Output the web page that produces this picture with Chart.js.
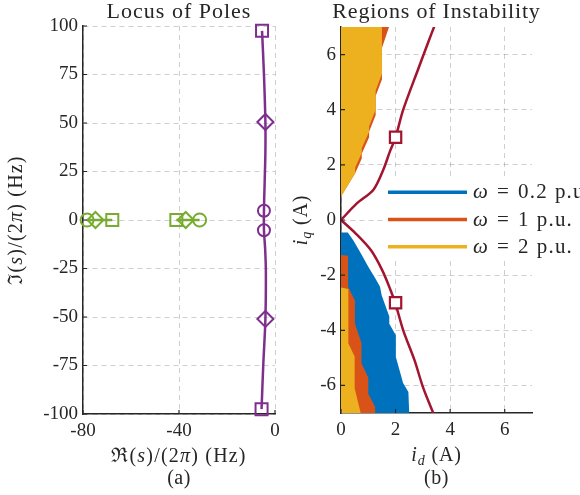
<!DOCTYPE html>
<html><head><meta charset="utf-8">
<script src="https://cdn.jsdelivr.net/npm/chart.js@4/dist/chart.umd.min.js"></script>
<style>
html,body{margin:0;padding:0;background:#fff;width:580px;height:495px;overflow:hidden}
#wrap{position:relative;width:580px;height:495px}
canvas{position:absolute;top:0}
#c1{left:0}#c2{left:290px}
</style></head><body>
<div id="wrap"><canvas id="c1" width="290" height="495"></canvas><canvas id="c2" width="290" height="495"></canvas></div>
<script>
// ---------- data: (a) locus of poles ----------
const poleTicksX = [-80, -40, 0];
const poleTickLabelsX = ['-80', '-40', '0'];
const poleTicksY = [-100, -75, -50, -25, 0, 25, 50, 75, 100];
const poleTickLabelsY = ['-100', '-75', '-50', '-25', '0', '25', '50', '75', '100'];
const purpleLocus = [[-5.4,97.5],[-4.6,75],[-4.0,50.5],[-4.0,35],[-4.3,20],[-4.6,4.8],[-4.6,-5.3],[-4.1,-15],[-3.8,-27],[-4.0,-51],[-4.9,-75],[-5.6,-97.5]];
const purpleSquares = [[-5.4,97.5],[-5.6,-97.5]];
const purpleDiamonds = [[-4.0,50.5],[-4.0,-51]];
const purpleCircles = [[-4.6,4.8],[-4.6,-5.3]];
const greenLeft = [[-78.3,0],[-74.8,0],[-67.8,0]];
const greenLeftMarkers = ['circle','rectRot','rect'];
const greenRight = [[-41.1,0],[-37.2,0],[-31.4,0]];
const greenRightMarkers = ['rect','rectRot','circle'];

// ---------- data: (b) regions of instability ----------
const idTicks = [0, 2, 4, 6];
const idTickLabels = ['0', '2', '4', '6'];
const iqTicks = [-6, -4, -2, 0, 2, 4, 6];
const iqTickLabels = ['-6', '-4', '-2', '0', '2', '4', '6'];
const legendLabels = ['ω = 0.2 p.u.', 'ω = 1 p.u.', 'ω = 2 p.u.'];
const blueLower = [[0,-0.45],[0.25,-0.45],[0.46,-0.75],[0.72,-1.2],[1.0,-1.7],[1.25,-2.1],[1.43,-2.42],[1.49,-2.73],[1.77,-3.5],[1.77,-3.76],[2.01,-4.18],[2.01,-4.97],[2.25,-5.82],[2.27,-5.9],[2.47,-6.24],[2.5,-7],[0,-7]];
const orangeLower = [[0,-1.27],[0.26,-1.3],[0.26,-2.42],[0.51,-2.92],[0.51,-3.76],[0.75,-4.46],[0.75,-5.2],[1.0,-5.72],[1.0,-6.3],[1.25,-6.78],[1.25,-7],[0,-7]];
const yellowLower = [[0,-2.45],[0.27,-2.5],[0.27,-4.48],[0.5,-4.95],[0.5,-6.1],[0.72,-7],[0,-7]];
const orangeUpper = [[0,7],[1.76,7],[1.5,6.24],[1.5,5.1],[1.27,4.5],[1.27,3.8],[1.03,3.2],[1.03,3.0],[0.76,2.4],[0.76,2.23],[0.52,1.7],[0,0.85]];
const yellowUpper = [[0,7],[1.5,7],[1.5,5.3],[1.27,4.7],[1.27,4.0],[1.03,3.4],[1.03,3.2],[0.76,2.6],[0.76,2.43],[0.52,1.9],[0.52,1.7],[0,0.85]];
const redUpper = [[0,0],[0.58,0.6],[1.19,1.1],[1.55,1.82],[1.79,2.48],[2.0,3.0],[2.28,4.0],[2.82,5.45],[3.19,6.43],[3.43,7.05]];
const redLower = [[0,0],[0.55,-0.5],[1.1,-1.1],[1.5,-1.8],[1.8,-2.5],[2.0,-3.05],[2.28,-4.0],[2.7,-5.1],[3.0,-6.05],[3.4,-7.05]];
const redSquares = [[2,3],[2,-3]];

// ---------- styles ----------
const SERIF = "'Liberation Serif', 'DejaVu Serif', serif";
const AX = '#262626';
const GRID = 'rgba(38,38,38,0.22)';
const PURPLE = '#7E2F8E', GREEN = '#77AC30';
const BLUE = '#0072BD', ORANGE = '#D95319', YELLOW = '#EDB120', RED = '#A2142F';

const xy = arr => arr.map(p => ({x: p[0], y: p[1]}));

function drawParts(ctx, parts, x, y, align, rot, spacing) {
  ctx.save();
  ctx.translate(x, y);
  if (rot) ctx.rotate(rot);
  ctx.textBaseline = 'alphabetic';
  ctx.textAlign = 'left';
  ctx.fillStyle = AX;
  const setF = p => { ctx.font = (p.it ? 'italic ' : '') + p.size + 'px ' + SERIF; ctx.letterSpacing = (spacing || 0) + 'px'; };
  let w = 0;
  const ms = parts.map(p => { setF(p); const m = ctx.measureText(p.t).width + (p.gap || 0); w += m; return m; });
  let cx = align === 'center' ? -w / 2 : (align === 'right' ? -w : 0);
  parts.forEach((p, i) => { setF(p); ctx.fillText(p.t, cx, p.dy || 0); cx += ms[i]; });
  ctx.restore();
}

function inwardTicks(chart) {
  const ctx = chart.ctx, a = chart.chartArea, sx = chart.scales.x, sy = chart.scales.y;
  ctx.save();
  ctx.strokeStyle = AX; ctx.lineWidth = 1.2;
  ctx.beginPath();
  sx.ticks.forEach(t => { const px = sx.getPixelForValue(t.value); ctx.moveTo(px, a.bottom); ctx.lineTo(px, a.bottom - 4); });
  sy.ticks.forEach(t => { const py = sy.getPixelForValue(t.value); ctx.moveTo(a.left, py); ctx.lineTo(a.left + 4, py); });
  ctx.stroke();
  ctx.restore();
}

function axisCfg(min, max, ticks, labels, fitFn, pad) {
  return {
    type: 'linear', min: min, max: max,
    afterBuildTicks: s => { s.ticks = ticks.map(v => ({value: v})); },
    afterFit: fitFn,
    ticks: {font: {family: SERIF, size: 19}, color: AX, padding: pad, maxRotation: 0, autoSkip: false,
            callback: (v, i) => labels[i]},
    grid: {color: GRID, lineWidth: 1, drawTicks: false},
    border: {display: true, color: AX, width: 1.5, dash: [5, 4]},
    z: 1
  };
}

const SPAN = 20;

// ---------- chart (a) ----------
new Chart(document.getElementById('c1'), {
  type: 'scatter',
  data: {datasets: [
    {data: xy(purpleSquares), pointStyle: 'rect', pointRadius: 8.5, pointBorderWidth: 2, pointBorderColor: PURPLE, pointBackgroundColor: 'rgba(0,0,0,0)', showLine: false, clip: false},
    {data: xy(purpleDiamonds), pointStyle: 'rectRot', pointRadius: 8, pointBorderWidth: 2, pointBorderColor: PURPLE, pointBackgroundColor: 'rgba(0,0,0,0)', showLine: false, clip: false},
    {data: xy(purpleCircles), pointStyle: 'circle', pointRadius: 6, pointBorderWidth: 2, pointBorderColor: PURPLE, pointBackgroundColor: 'rgba(0,0,0,0)', showLine: false, clip: false},
    {data: xy(purpleLocus), showLine: true, borderColor: PURPLE, borderWidth: 2.5, tension: 0.35, pointRadius: 0, fill: false},
    {data: xy(greenLeft), showLine: true, borderColor: GREEN, borderWidth: 2.5, pointStyle: greenLeftMarkers, pointRadius: [6.5, 8, 8.5], pointBorderWidth: 2, pointBorderColor: GREEN, pointBackgroundColor: 'rgba(0,0,0,0)', clip: false},
    {data: xy(greenRight), showLine: true, borderColor: GREEN, borderWidth: 2.5, pointStyle: greenRightMarkers, pointRadius: [8.5, 8, 6.5], pointBorderWidth: 2, pointBorderColor: GREEN, pointBackgroundColor: 'rgba(0,0,0,0)', clip: false}
  ]},
  options: {
    responsive: false, animation: false, events: [],
    layout: {padding: {left: 0, top: 26, right: 15, bottom: 0}},
    plugins: {legend: {display: false}, tooltip: {enabled: false}},
    scales: {
      x: axisCfg(-80, 0, poleTicksX, poleTickLabelsX, s => { s.height = 81; }, 6),
      y: axisCfg(-100, 100, poleTicksY, poleTickLabelsY, s => { s.width = 83; }, 5)
    }
  },
  plugins: [{
    id: 'textA',
    afterDraw(chart) {
      const ctx = chart.ctx, a = chart.chartArea, cx = (a.left + a.right) / 2;
      inwardTicks(chart);
      drawParts(ctx, [{t: 'Locus of Poles', size: 22}], cx, 18, 'center', 0, 1);
      drawParts(ctx, [{t: 'ℜ', size: SPAN}, {t: '(', size: SPAN}, {t: 's', it: true, size: SPAN}, {t: ')/(2', size: SPAN}, {t: 'π', it: true, size: SPAN}, {t: ') (Hz)', size: SPAN}], cx, 462, 'center', 0, 1.2);
      drawParts(ctx, [{t: '(a)', size: SPAN}], cx, 484, 'center', 0, 0.5);
      drawParts(ctx, [{t: 'ℑ', size: SPAN}, {t: '(', size: SPAN}, {t: 's', it: true, size: SPAN}, {t: ')/(2', size: SPAN}, {t: 'π', it: true, size: SPAN}, {t: ') (Hz)', size: SPAN}], 22, (a.top + a.bottom) / 2, 'center', -Math.PI / 2, 1.2);
    }
  }]
});

// ---------- chart (b) ----------
const regionDs = (pts, col) => ({data: xy(pts), showLine: true, fill: 'shape', backgroundColor: col, borderColor: col, borderWidth: 0, pointRadius: 0, tension: 0});
const legendColors = [BLUE, ORANGE, YELLOW];

new Chart(document.getElementById('c2'), {
  type: 'scatter',
  data: {datasets: [
    {data: xy(redSquares), showLine: false, pointStyle: 'rect', pointRadius: 8, pointBorderWidth: 2.2, pointBorderColor: RED, pointBackgroundColor: '#ffffff', clip: false},
    {data: xy(redUpper), showLine: true, borderColor: RED, borderWidth: 2.5, tension: 0.3, pointRadius: 0, fill: false},
    {data: xy(redLower), showLine: true, borderColor: RED, borderWidth: 2.5, tension: 0.3, pointRadius: 0, fill: false},
    regionDs(yellowUpper, YELLOW),
    regionDs(yellowLower, YELLOW),
    regionDs(orangeUpper, ORANGE),
    regionDs(orangeLower, ORANGE),
    regionDs(blueLower, BLUE)
  ]},
  options: {
    responsive: false, animation: false, events: [],
    layout: {padding: {left: 0, top: 27, right: 48, bottom: 0}},
    plugins: {legend: {display: false}, tooltip: {enabled: false}},
    scales: {
      x: axisCfg(0, 7, idTicks, idTickLabels, s => { s.height = 82; }, 6),
      y: axisCfg(-7, 7, iqTicks, iqTickLabels, s => { s.width = 51; }, 5)
    }
  },
  plugins: [{
    id: 'textB',
    afterDraw(chart) {
      const ctx = chart.ctx, a = chart.chartArea, cx = (a.left + a.right) / 2;
      inwardTicks(chart);
      drawParts(ctx, [{t: 'Regions of Instability', size: 22}], cx, 18, 'center', 0, 0.8);
      drawParts(ctx, [{t: 'i', it: true, size: SPAN}, {t: 'd', it: true, size: 14, dy: 4, gap: 6}, {t: '(A)', size: SPAN}], cx, 461, 'center', 0, 0.8);
      drawParts(ctx, [{t: '(b)', size: SPAN}], cx, 484, 'center', 0, 0.5);
      drawParts(ctx, [{t: 'i', it: true, size: SPAN}, {t: 'q', it: true, size: 14, dy: 4, gap: 6}, {t: '(A)', size: SPAN}], 17, (a.top + a.bottom) / 2, 'center', -Math.PI / 2, 0.8);
      // legend
      ctx.save();
      ctx.fillStyle = '#ffffff';
      ctx.fillRect(96, 176, 200, 83);
      legendLabels.forEach((lab, k) => {
        const y = 192.3 + k * 27.2;
        ctx.strokeStyle = legendColors[k]; ctx.lineWidth = 3.5;
        ctx.beginPath(); ctx.moveTo(98, y); ctx.lineTo(177, y); ctx.stroke();
        const rest = lab.slice(1).trim().split(' '); // ['=', num, 'p.u.']
        drawParts(ctx, [{t: lab[0], it: true, size: 21, gap: 8}, {t: rest[0], size: 21, gap: 8}, {t: rest[1], size: 21, gap: 7}, {t: rest.slice(2).join(' '), size: 21}], 183, y + 6, 'left', 0, 1.2);
      });
      ctx.restore();
    }
  }]
});
</script>
</body></html>
